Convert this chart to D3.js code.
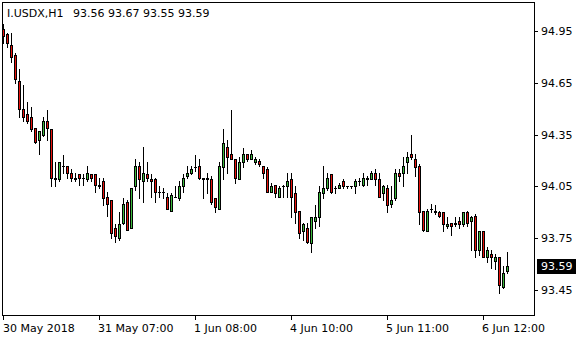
<!DOCTYPE html>
<html>
<head>
<meta charset="utf-8">
<script src="https://cdn.jsdelivr.net/npm/d3@7"></script>
<style>
  body { margin: 0; background: #fff; }
  svg { display: block; font-family: 'DejaVu Sans', sans-serif; font-size: 11px; }
</style>
</head>
<body>
<script>
// hourly I.USDX bars, 30 May 2018 -> 6 Jun 2018
const opens = [94.96, 94.93, 94.87, 94.81, 94.66, 94.50, 94.47, 94.45, 94.39, 94.32,
  94.35, 94.43, 94.38, 94.09, 94.09, 94.17, 94.17, 94.13, 94.09, 94.12,
  94.10, 94.09, 94.12, 94.12, 94.05, 94.08, 93.99, 93.97, 93.81, 93.75,
  93.84, 93.96, 93.81, 94.05, 94.17, 94.08, 94.12, 94.09, 94.09, 94.02,
  94.02, 93.99, 93.91, 93.99, 93.98, 94.05, 94.11, 94.13, 94.16, 94.17,
  94.09, 94.09, 94.09, 93.98, 93.92, 94.16, 94.28, 94.24, 94.21, 94.09,
  94.19, 94.24, 94.21, 94.19, 94.20, 94.17, 94.15, 94.02, 94.06, 93.99,
  94.05, 94.05, 94.09, 94.01, 93.91, 93.79, 93.81, 93.72, 93.85, 93.87,
  94.01, 94.04, 94.12, 94.04, 94.04, 94.08, 94.05, 94.05, 94.05, 94.08,
  94.06, 94.09, 94.09, 94.13, 94.09, 94.01, 94.04, 93.95, 93.98, 94.13,
  94.13, 94.19, 94.24, 94.21, 94.17, 93.91, 93.79, 93.92, 93.91, 93.90,
  93.90, 93.82, 93.84, 93.83, 93.85, 93.83, 93.90, 93.85, 93.88, 93.68,
  93.79, 93.64, 93.66, 93.62, 93.64, 93.47, 93.56]

const highs = [94.99, 94.94, 94.94, 94.82, 94.73, 94.64, 94.54, 94.51, 94.39, 94.37,
  94.45, 94.49, 94.38, 94.19, 94.19, 94.23, 94.17, 94.15, 94.13, 94.12,
  94.12, 94.17, 94.12, 94.12, 94.10, 94.10, 94.02, 93.97, 93.83, 93.90,
  93.98, 93.97, 94.04, 94.21, 94.19, 94.28, 94.19, 94.12, 94.10, 94.05,
  94.04, 94.01, 94.01, 94.05, 94.08, 94.12, 94.17, 94.17, 94.23, 94.21,
  94.10, 94.13, 94.11, 93.98, 94.19, 94.38, 94.32, 94.49, 94.21, 94.22,
  94.27, 94.24, 94.26, 94.22, 94.21, 94.17, 94.16, 94.07, 94.06, 94.05,
  94.06, 94.13, 94.13, 94.05, 93.91, 93.84, 93.84, 93.87, 93.94, 94.05,
  94.17, 94.13, 94.12, 94.05, 94.07, 94.09, 94.05, 94.05, 94.09, 94.10,
  94.13, 94.11, 94.14, 94.15, 94.13, 94.06, 94.06, 94.05, 94.15, 94.15,
  94.22, 94.25, 94.35, 94.24, 94.18, 93.91, 93.92, 93.95, 93.94, 93.91,
  93.90, 93.87, 93.84, 93.87, 93.87, 93.90, 93.91, 93.88, 93.89, 93.79,
  93.79, 93.70, 93.68, 93.66, 93.64, 93.59, 93.67]

const lows = [94.88, 94.86, 94.77, 94.65, 94.45, 94.43, 94.42, 94.37, 94.30, 94.24,
  94.34, 94.32, 94.05, 94.05, 94.08, 94.13, 94.10, 94.08, 94.08, 94.06,
  94.06, 94.08, 94.08, 94.02, 94.04, 93.94, 93.88, 93.75, 93.73, 93.74,
  93.83, 93.80, 93.81, 94.03, 93.98, 93.96, 94.08, 93.99, 93.96, 93.99,
  93.98, 93.92, 93.91, 93.99, 93.97, 94.02, 94.10, 94.12, 94.14, 94.09,
  93.98, 94.01, 93.95, 93.90, 93.92, 94.09, 94.13, 94.21, 94.07, 94.09,
  94.16, 94.20, 94.21, 94.18, 94.17, 94.10, 94.02, 94.02, 93.99, 93.99,
  93.99, 93.99, 93.87, 93.84, 93.75, 93.74, 93.72, 93.67, 93.81, 93.82,
  93.98, 94.03, 94.01, 94.01, 94.04, 94.04, 94.04, 94.04, 94.01, 94.06,
  94.05, 94.06, 94.09, 94.06, 93.99, 93.97, 93.90, 93.93, 93.97, 94.08,
  94.05, 94.13, 94.21, 94.11, 93.83, 93.79, 93.79, 93.90, 93.89, 93.87,
  93.79, 93.81, 93.77, 93.82, 93.81, 93.82, 93.82, 93.68, 93.64, 93.65,
  93.64, 93.61, 93.58, 93.57, 93.43, 93.46, 93.55]

const closes = [94.92, 94.88, 94.80, 94.67, 94.50, 94.45, 94.43, 94.38, 94.31, 94.37,
  94.43, 94.39, 94.10, 94.10, 94.19, 94.17, 94.13, 94.10, 94.10, 94.10,
  94.10, 94.13, 94.10, 94.06, 94.06, 93.98, 93.95, 93.78, 93.76, 93.83,
  93.95, 93.80, 94.04, 94.17, 94.09, 94.13, 94.10, 94.08, 94.02, 94.02,
  94.02, 93.92, 94.00, 93.99, 94.05, 94.10, 94.13, 94.15, 94.16, 94.10,
  94.10, 94.10, 93.96, 93.93, 94.17, 94.30, 94.22, 94.21, 94.10, 94.19,
  94.24, 94.21, 94.24, 94.21, 94.18, 94.13, 94.02, 94.05, 94.01, 94.04,
  94.05, 94.08, 93.99, 93.90, 93.78, 93.83, 93.73, 93.87, 93.87, 94.02,
  94.04, 94.10, 94.02, 94.04, 94.06, 94.05, 94.05, 94.05, 94.08, 94.08,
  94.10, 94.10, 94.13, 94.09, 93.99, 94.05, 93.94, 93.97, 94.13, 94.11,
  94.17, 94.22, 94.22, 94.16, 93.90, 93.80, 93.91, 93.92, 93.90, 93.88,
  93.83, 93.83, 93.82, 93.84, 93.83, 93.90, 93.84, 93.87, 93.68, 93.79,
  93.64, 93.68, 93.64, 93.64, 93.48, 93.55, 93.59]

const priceTicks = [94.95, 94.65, 94.35, 94.05, 93.75, 93.45]
const timeTickBars = [0, 24, 48, 72, 96, 120]
const timeTickLabels = ['30 May 2018', '31 May 07:00', '1 Jun 08:00', '4 Jun 10:00', '5 Jun 11:00', '6 Jun 12:00']

const symbol = 'I.USDX,H1'

const width = 580
const height = 340

const frame = { left: 2, top: 2, right: 534, bottom: 315 }

const bars = opens.map((o, i) => ({ i, o, h: highs[i], l: lows[i], c: closes[i] }))

const x = d3.scaleLinear()
  .domain([0, bars.length - 1])
  .range([3, 3 + 4 * (bars.length - 1)])

const y = d3.scaleLinear()
  .domain([93.45, 94.95])
  .range([290, 31])

const py = v => Math.round(y(v))

const svg = d3.select('body')
  .append('svg')
  .attr('width', width)
  .attr('height', height)
  .attr('shape-rendering', 'crispEdges')

svg.append('clipPath')
  .attr('id', 'plot')
  .append('rect')
  .attr('x', frame.left + 1)
  .attr('y', frame.top + 1)
  .attr('width', frame.right - frame.left - 1)
  .attr('height', frame.bottom - frame.top - 1)

const candles = svg.append('g')
  .attr('clip-path', 'url(#plot)')
  .selectAll('g')
  .data(bars)
  .enter()
  .append('g')

// wicks
candles.append('rect')
  .attr('x', d => x(d.i))
  .attr('y', d => py(d.h))
  .attr('width', 1)
  .attr('height', d => py(d.l) - py(d.h) + 1)
  .attr('fill', '#000')

// body outline
candles.append('rect')
  .attr('x', d => x(d.i) - 1)
  .attr('y', d => py(Math.max(d.o, d.c)))
  .attr('width', 3)
  .attr('height', d => py(Math.min(d.o, d.c)) - py(Math.max(d.o, d.c)) + 1)
  .attr('fill', '#000')

// body fill
candles.filter(d => py(Math.min(d.o, d.c)) - py(Math.max(d.o, d.c)) > 1)
  .append('rect')
  .attr('x', d => x(d.i))
  .attr('y', d => py(Math.max(d.o, d.c)) + 1)
  .attr('width', 1)
  .attr('height', d => py(Math.min(d.o, d.c)) - py(Math.max(d.o, d.c)) - 1)
  .attr('fill', d => d.c >= d.o ? '#3cb93c' : '#e8120c')

// frame
const border = svg.append('g').attr('fill', '#000')
border.append('rect').attr('x', frame.left).attr('y', frame.top).attr('width', frame.right - frame.left + 1).attr('height', 1)
border.append('rect').attr('x', frame.left).attr('y', frame.bottom).attr('width', frame.right - frame.left + 1).attr('height', 1)
border.append('rect').attr('x', frame.left).attr('y', frame.top).attr('width', 1).attr('height', frame.bottom - frame.top + 1)
border.append('rect').attr('x', frame.right).attr('y', frame.top).attr('width', 1).attr('height', frame.bottom - frame.top + 1)

// price axis
const yAxis = svg.append('g')
  .selectAll('g')
  .data(priceTicks)
  .enter()
  .append('g')

yAxis.append('rect')
  .attr('x', frame.right + 1)
  .attr('y', d => py(d))
  .attr('width', 3)
  .attr('height', 1)
  .attr('fill', '#000')

yAxis.append('text')
  .attr('x', 541)
  .attr('y', d => py(d) + 4)
  .attr('fill', '#000')
  .text(d => d.toFixed(2))

// time axis
const xAxis = svg.append('g')
  .selectAll('g')
  .data(timeTickBars)
  .enter()
  .append('g')

xAxis.append('rect')
  .attr('x', d => x(d))
  .attr('y', frame.bottom + 1)
  .attr('width', 1)
  .attr('height', 4)
  .attr('fill', '#000')

xAxis.append('text')
  .attr('x', (d, k) => k === 0 ? 3 : x(d) - 1)
  .attr('y', 332)
  .attr('fill', '#000')
  .text((d, k) => timeTickLabels[k])

// last price tag
const last = bars[bars.length - 1]

svg.append('rect')
  .attr('x', 537)
  .attr('y', py(last.c) - 7)
  .attr('width', 39)
  .attr('height', 15)
  .attr('fill', '#000')

svg.append('text')
  .attr('x', 541)
  .attr('y', py(last.c) + 4)
  .attr('fill', '#fff')
  .text(last.c.toFixed(2))

// header
svg.append('text')
  .attr('x', 7)
  .attr('y', 17)
  .attr('fill', '#000')
  .text(symbol)

svg.append('text')
  .attr('x', 73)
  .attr('y', 17)
  .attr('fill', '#000')
  .text([last.o, last.h, last.l, last.c].map(v => v.toFixed(2)).join(' '))
</script>
</body>
</html>
